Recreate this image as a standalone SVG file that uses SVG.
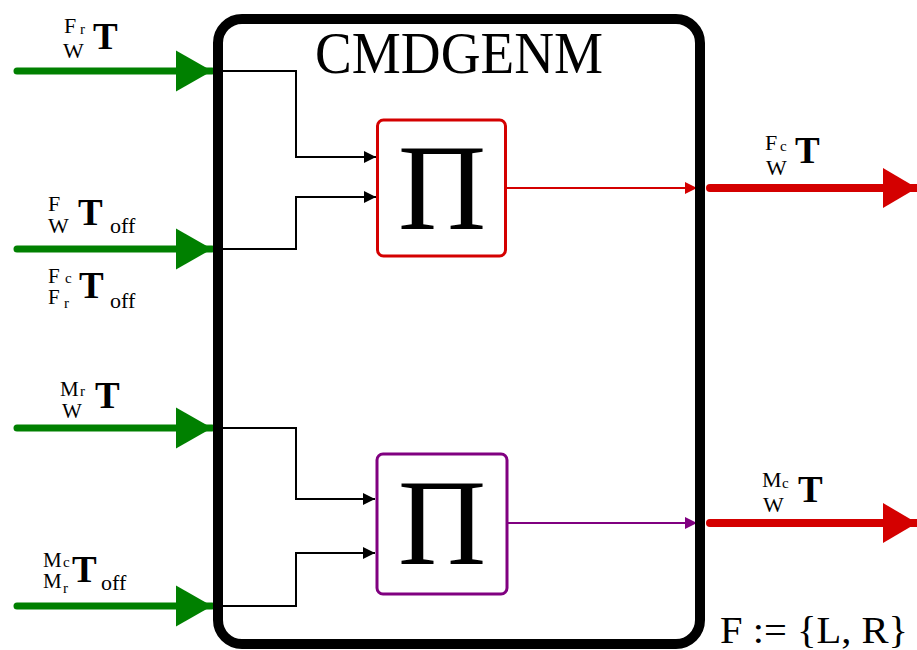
<svg xmlns="http://www.w3.org/2000/svg" width="917" height="650" viewBox="0 0 917 650">
<defs>
<style>
text{font-family:"Liberation Serif","DejaVu Serif","Times New Roman",serif;fill:#000}
.s{font-size:22px}
.s2{font-size:21px}
.ss{font-size:15px}
.T{font-size:37px;font-weight:bold}
.wire{fill:none;stroke:#000;stroke-width:2}
.gin{fill:none;stroke:#008000;stroke-width:7;stroke-linecap:round}
.rout{fill:none;stroke:#d40000;stroke-width:8;stroke-linecap:round}
</style>
<marker id="ab" markerUnits="userSpaceOnUse" markerWidth="12" markerHeight="14" refX="12" refY="7" orient="auto"><path d="M0,1 L12,7 L0,13 z" fill="#000"/></marker>
<marker id="ar" markerUnits="userSpaceOnUse" markerWidth="12" markerHeight="14" refX="12" refY="7" orient="auto"><path d="M0,1 L12,7 L0,13 z" fill="#d40000"/></marker>
<marker id="ap" markerUnits="userSpaceOnUse" markerWidth="12" markerHeight="14" refX="12" refY="7" orient="auto"><path d="M0,1 L12,7 L0,13 z" fill="#800080"/></marker>
<marker id="ag" markerUnits="userSpaceOnUse" markerWidth="37" markerHeight="42" refX="36" refY="21" orient="auto"><path d="M0,0.5 L36,21 L0,41.5 z" fill="#008000"/></marker>
<marker id="aR" markerUnits="userSpaceOnUse" markerWidth="35" markerHeight="42" refX="34" refY="21" orient="auto"><path d="M0,1 L34,21 L0,41 z" fill="#d40000"/></marker>
</defs>
<rect width="917" height="650" fill="#fff"/>

<g id="connectors">
<path class="wire" d="M218,71 H296 V157 H376" marker-end="url(#ab)"/>
<path class="wire" d="M218,249 H296 V197 H376" marker-end="url(#ab)"/>
<path class="wire" d="M218,428 H296 V499 H375" marker-end="url(#ab)"/>
<path class="wire" d="M218,606 H296 V553 H375" marker-end="url(#ab)"/>
<path d="M507,188 H697" fill="none" stroke="#d40000" stroke-width="2" marker-end="url(#ar)"/>
<path d="M508,523 H697" fill="none" stroke="#800080" stroke-width="2" marker-end="url(#ap)"/>
<path class="gin" d="M17,71 H212" marker-end="url(#ag)"/>
<path class="gin" d="M17,249 H212" marker-end="url(#ag)"/>
<path class="gin" d="M17,428 H212" marker-end="url(#ag)"/>
<path class="gin" d="M17,606 H212" marker-end="url(#ag)"/>
<path class="rout" d="M710,188 H917" marker-end="url(#aR)"/>
<path class="rout" d="M710,523 H917" marker-end="url(#aR)"/>
</g>

<g id="cmdgenm">
<rect x="218" y="19" width="482" height="625" rx="24" ry="24" fill="none" stroke="#000" stroke-width="10"/>
<text x="459" y="73" font-size="60" text-anchor="middle" textLength="288" lengthAdjust="spacingAndGlyphs">CMDGENM</text>
</g>

<g id="pi1">
<rect x="377.5" y="120" width="128" height="136" rx="6" fill="#fff" stroke="#d40000" stroke-width="3"/>
<text x="442" y="229" font-size="122" text-anchor="middle">Π</text>
</g>

<g id="pi2">
<rect x="377" y="454" width="130" height="140" rx="6" fill="#fff" stroke="#800080" stroke-width="3"/>
<text x="442" y="564" font-size="122" text-anchor="middle">Π</text>
</g>

<g id="in1">
<text><tspan class="s" x="64" y="33">F</tspan><tspan class="ss" x="80" y="34">r</tspan><tspan class="s" x="63" y="58">W</tspan><tspan class="T" x="93" y="49">T</tspan></text>
</g>
<g id="in2">
<text><tspan class="s" x="48" y="211">F</tspan><tspan class="s" x="48" y="233">W</tspan><tspan class="T" x="78" y="225">T</tspan><tspan class="s" x="110" y="233">off</tspan></text>
</g>
<g id="in2b">
<text><tspan class="s2" x="48" y="283">F</tspan><tspan class="ss" x="65" y="283">c</tspan><tspan class="s2" x="48" y="304">F</tspan><tspan class="ss" x="64" y="308">r</tspan><tspan class="T" x="79" y="298">T</tspan><tspan class="s" x="110" y="308">off</tspan></text>
</g>
<g id="in3">
<text><tspan class="s2" x="60" y="396">M</tspan><tspan class="ss" x="80" y="396">r</tspan><tspan class="s2" x="62" y="418">W</tspan><tspan class="T" x="95" y="408">T</tspan></text>
</g>
<g id="in4">
<text><tspan class="s2" x="43" y="567">M</tspan><tspan class="ss" x="63" y="567">c</tspan><tspan class="s2" x="43" y="588">M</tspan><tspan class="ss" x="63" y="593">r</tspan><tspan class="T" x="72" y="582">T</tspan><tspan class="s" x="101" y="590">off</tspan></text>
</g>
<g id="out1">
<text><tspan class="s" x="765" y="150">F</tspan><tspan class="ss" x="780" y="151">c</tspan><tspan class="s" x="766" y="175">W</tspan><tspan class="T" x="795" y="163">T</tspan></text>
</g>
<g id="out2">
<text><tspan class="s" x="762" y="487">M</tspan><tspan class="ss" x="782" y="488">c</tspan><tspan class="s" x="763" y="512">W</tspan><tspan class="T" x="798" y="502">T</tspan></text>
</g>
<g id="note">
<text x="720" y="643" font-size="37" textLength="188" lengthAdjust="spacingAndGlyphs">F := {L, R}</text>
</g>
</svg>
